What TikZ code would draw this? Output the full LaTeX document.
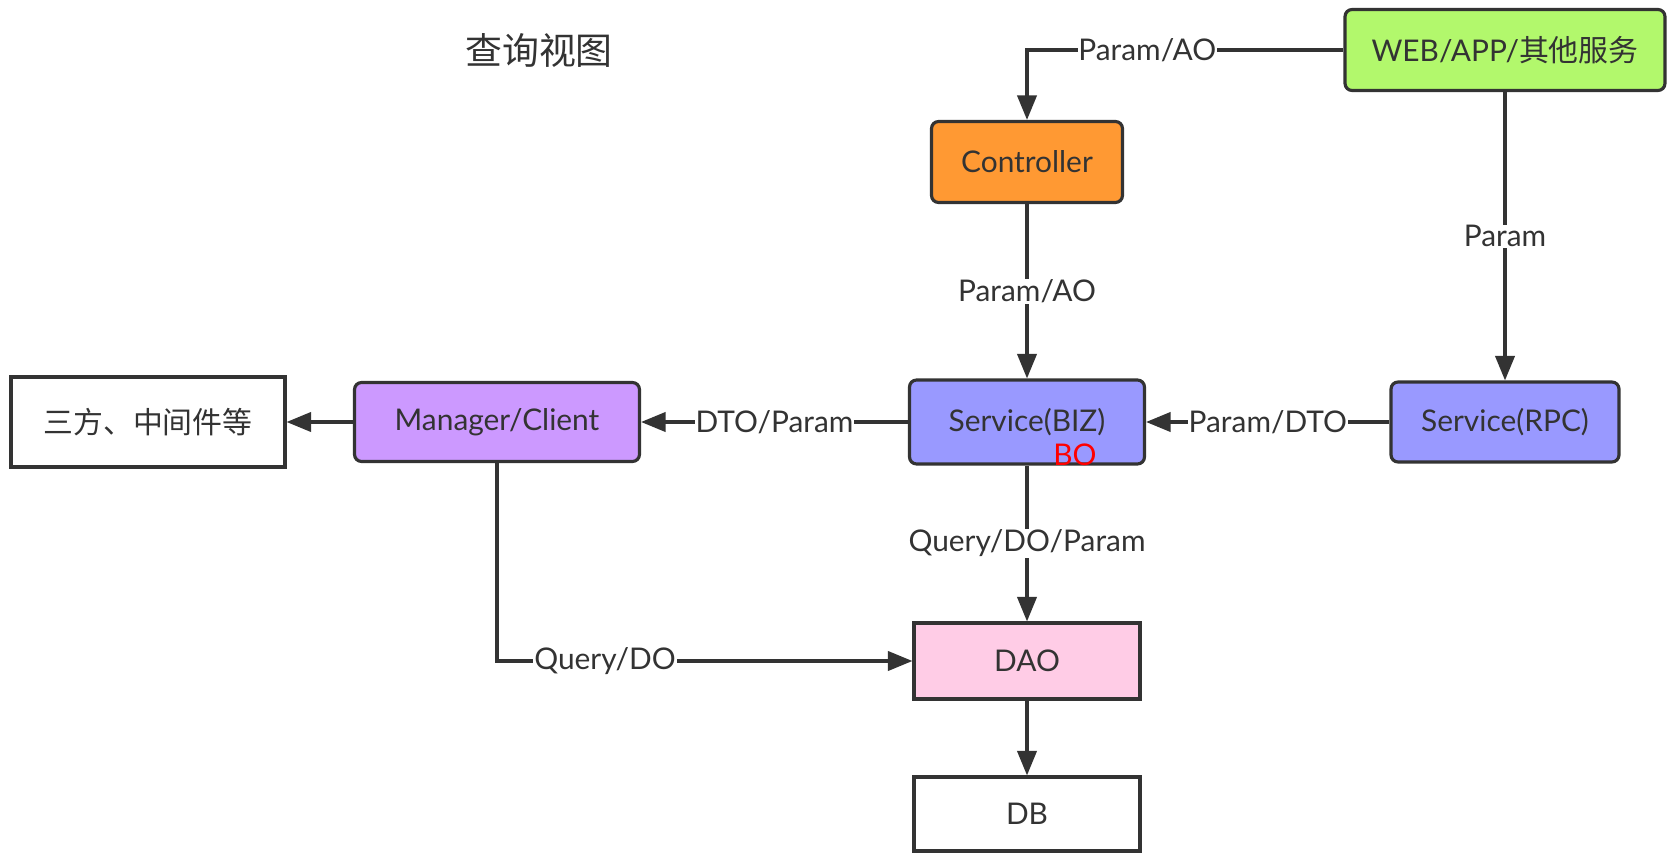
\documentclass[tikz,border=0pt]{standalone}
\usepackage{fontspec}
\usepackage{xcolor}
\setmainfont{Lato}
\newfontfamily\cjk{Noto Sans CJK SC}
\usetikzlibrary{arrows.meta}

\definecolor{linegray}{HTML}{333333}
\definecolor{webgreen}{HTML}{B2F86C}
\definecolor{ctrlorange}{HTML}{FF9933}
\definecolor{svcblue}{HTML}{9999FF}
\definecolor{mgrpurple}{HTML}{CC99FF}
\definecolor{daopink}{HTML}{FFCCE6}

\begin{document}
\begin{tikzpicture}[
        x=0.02cm, y=-0.02cm,
        every node/.style={font=\fontsize{17}{20}\selectfont, text=linegray},
        box/.style={draw=linegray, line width=1.8pt, rounded corners=4pt, align=center, inner sep=0pt},
        plainbox/.style={box, rounded corners=0pt},
        arrow/.style={-{Triangle[length=14pt, width=11pt]}, line width=1.8pt, draw=linegray},
        lbl/.style={fill=white, inner sep=0.5pt}
    ]
        \useasboundingbox (0,0) rectangle (1673,861);

        % Title
        \node[font=\cjk\fontsize{21}{24}\selectfont] (title) at (539,51) {查询视图};

        % Top row
        \node[box, fill=webgreen, minimum width=6.4cm, minimum height=1.62cm] (web) at (1505,50) {WEB/APP/\cjk 其他服务};
        \node[box, fill=ctrlorange, minimum width=3.82cm, minimum height=1.62cm] (ctrl) at (1027,162) {Controller};

        % Middle row
        \node[plainbox, fill=white, minimum width=5.48cm, minimum height=1.8cm] (third) at (148,422) {\cjk 三方、中间件等};
        \node[box, fill=mgrpurple, minimum width=5.7cm, minimum height=1.58cm] (mgr) at (497,422) {Manager/Client};
        \node[box, fill=svcblue, minimum width=4.7cm, minimum height=1.68cm] (biz) at (1027,422) {Service(BIZ)};
        \node[text=red] (bo) at (1075,455) {BO};
        \node[box, fill=svcblue, minimum width=4.56cm, minimum height=1.6cm] (rpc) at (1505,422) {Service(RPC)};

        % Bottom column
        \node[plainbox, fill=daopink, minimum width=4.52cm, minimum height=1.52cm] (dao) at (1027,661) {DAO};
        \node[plainbox, fill=white, minimum width=4.52cm, minimum height=1.48cm] (db) at (1027,814) {DB};

        % Arrows from the callers
        \draw[arrow] (web.west) -| node[lbl, pos=0.31] {Param/AO} (ctrl.north);
        \draw[arrow] (web.south) -- node[lbl] {Param} (rpc.north);
        \draw[arrow] (ctrl.south) -- node[lbl] {Param/AO} (biz.north);
        \draw[arrow] (rpc.west) -- node[lbl] {Param/DTO} (biz.east);

        % Arrows to the outside and to the data
        \draw[arrow] (biz.west) -- node[lbl] {DTO/Param} (mgr.east);
        \draw[arrow] (mgr.west) -- (third.east);
        \draw[arrow] (biz.south) -- node[lbl] {Query/DO/Param} (dao.north);
        \draw[arrow] (mgr.south) |- node[lbl, pos=0.63] {Query/DO} (dao.west);
        \draw[arrow] (dao.south) -- (db.north);
    \end{tikzpicture}
\end{document}
